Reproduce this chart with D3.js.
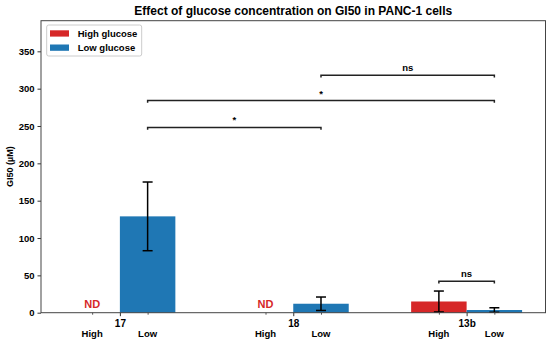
<!DOCTYPE html>
<html>
<head>
<meta charset="utf-8">
<style>
  body { margin: 0; background: #fff; }
  text { font-family: "Liberation Sans", Arial, sans-serif; font-weight: bold; }
</style>
</head>
<body>
<svg id="chart" width="550" height="343"></svg>
<script src="https://cdn.jsdelivr.net/npm/d3@7/dist/d3.min.js"></script>
<script>
// data
const compounds = ['17', '18', '13b']
const highVals = [null, null, 15]     // null = not determined
const highErr  = [null, null, 14]
const lowVals  = [129, 12, 3.6]
const lowErr   = [46, 9, 3]
const yTicks = [0, 50, 100, 150, 200, 250, 300, 350]
const brackets = [
  { a: [0, 'low'], b: [1, 'low'], y: 248, label: '*' },
  { a: [0, 'low'], b: [2, 'low'], y: 284, label: '*' },
  { a: [1, 'low'], b: [2, 'low'], y: 318, label: 'ns' },
  { a: [2, 'high'], b: [2, 'low'], y: 42, label: 'ns' }
]

const red = '#d62728', blue = '#1f77b4'
const svg = d3.select('#chart')
const plot = { left: 41, right: 545.5, top: 20.7, bottom: 312.7 }
const barW = 0.32

const x = d3.scaleLinear().domain([-0.455, 2.455]).range([plot.left, plot.right])
const y = d3.scaleLinear().domain([0, 391]).range([plot.bottom, plot.top])

const center = (i, kind) => kind === 'high' ? i - barW / 2 : i + barW / 2

// bars
const bars = []
compounds.forEach((c, i) => {
  if (highVals[i] != null) bars.push({ i, kind: 'high', v: highVals[i], e: highErr[i] })
  if (lowVals[i] != null) bars.push({ i, kind: 'low', v: lowVals[i], e: lowErr[i] })
})

svg.selectAll('.bar').data(bars).enter().append('rect').classed('bar', true)
  .attr('x', d => d.kind === 'high' ? x(d.i - barW) : x(d.i))
  .attr('width', x(barW) - x(0))
  .attr('y', d => y(d.v))
  .attr('height', d => y(0) - y(d.v))
  .attr('fill', d => d.kind === 'high' ? red : blue)

// error bars
const eb = svg.selectAll('.err').data(bars).enter().append('g').classed('err', true)
  .attr('stroke', '#000').attr('stroke-width', 1.5)
eb.append('line')
  .attr('x1', d => x(center(d.i, d.kind))).attr('x2', d => x(center(d.i, d.kind)))
  .attr('y1', d => y(Math.max(0, d.v - d.e))).attr('y2', d => y(d.v + d.e))
eb.append('line')
  .attr('x1', d => x(center(d.i, d.kind)) - 5).attr('x2', d => x(center(d.i, d.kind)) + 5)
  .attr('y1', d => y(d.v + d.e)).attr('y2', d => y(d.v + d.e))
eb.append('line')
  .attr('x1', d => x(center(d.i, d.kind)) - 5).attr('x2', d => x(center(d.i, d.kind)) + 5)
  .attr('y1', d => y(Math.max(0, d.v - d.e))).attr('y2', d => y(Math.max(0, d.v - d.e)))

// ND labels
compounds.forEach((c, i) => {
  if (highVals[i] == null) {
    svg.append('text').attr('x', x(center(i, 'high'))).attr('y', y(0) - 5)
      .attr('text-anchor', 'middle').attr('fill', red).attr('font-size', 11).text('ND')
  }
})

// significance brackets
const h = 3
brackets.forEach(b => {
  const x1 = x(center(b.a[0], b.a[1])), x2 = x(center(b.b[0], b.b[1]))
  svg.append('path')
    .attr('d', `M${x1},${y(b.y - h)}L${x1},${y(b.y)}L${x2},${y(b.y)}L${x2},${y(b.y - h)}`)
    .attr('fill', 'none').attr('stroke', '#222').attr('stroke-width', 1.5)
  svg.append('text').attr('x', (x1 + x2) / 2).attr('y', y(b.y) - 4)
    .attr('text-anchor', 'middle').attr('font-size', 9.5).attr('font-weight', 'normal').text(b.label)
})

// axes
const yAxis = svg.append('g').attr('transform', `translate(${plot.left},0)`)
  .call(d3.axisLeft(y).tickValues(yTicks).tickSize(3.5).tickPadding(3))
yAxis.select('.domain').remove()
yAxis.selectAll('text').attr('font-size', 9.5).attr('fill', '#000')
yAxis.selectAll('line').attr('stroke', '#333')

const xAxis = svg.append('g').attr('transform', `translate(0,${plot.bottom})`)
  .call(d3.axisBottom(x).tickValues([0, 1, 2]).tickFormat(i => compounds[i]).tickSize(3.5).tickPadding(4))
xAxis.select('.domain').remove()
xAxis.selectAll('text').attr('font-size', 10).attr('fill', '#000')
xAxis.selectAll('line').attr('stroke', '#333')

// minor ticks under each bar position
const minorPos = []
compounds.forEach((c, i) => { minorPos.push(center(i, 'high'), center(i, 'low')) })
const xMinor = svg.append('g').attr('transform', `translate(0,${plot.bottom})`)
  .call(d3.axisBottom(x).tickValues(minorPos).tickFormat('').tickSize(2))
xMinor.select('.domain').remove()
xMinor.selectAll('line').attr('stroke', '#555')

// High / Low sub labels
compounds.forEach((c, i) => {
  ['high', 'low'].forEach(k => {
    svg.append('text').attr('x', x(center(i, k))).attr('y', 336.5)
      .attr('text-anchor', 'middle').attr('font-size', 9.5).text(k === 'high' ? 'High' : 'Low')
  })
})

// frame
svg.append('rect').attr('x', plot.left).attr('y', plot.top)
  .attr('width', plot.right - plot.left).attr('height', plot.bottom - plot.top)
  .attr('fill', 'none').attr('stroke', '#444').attr('stroke-width', 1)

// title
svg.append('text').attr('x', (plot.left + plot.right) / 2).attr('y', 15).attr('text-anchor', 'middle')
  .attr('font-size', 12).text('Effect of glucose concentration on GI50 in PANC-1 cells')

// y label
svg.append('text').attr('transform', `translate(13,${(plot.top + plot.bottom) / 2}) rotate(-90)`)
  .attr('text-anchor', 'middle').attr('font-size', 9).text('GI50 (µM)')

// legend
const lg = svg.append('g')
lg.append('rect').attr('x', 46.7).attr('y', 25).attr('width', 95).attr('height', 31)
  .attr('fill', '#fff').attr('stroke', '#ccc').attr('rx', 2)
const legendItems = [{ label: 'High glucose', color: red }, { label: 'Low glucose', color: blue }]
legendItems.forEach((d, i) => {
  lg.append('rect').attr('x', 50).attr('y', 30.3 + i * 14.2).attr('width', 19).attr('height', 6.3).attr('fill', d.color)
  lg.append('text').attr('x', 77.7).attr('y', 36.8 + i * 14.2).attr('font-size', 9.5).text(d.label)
})
</script>
</body>
</html>
